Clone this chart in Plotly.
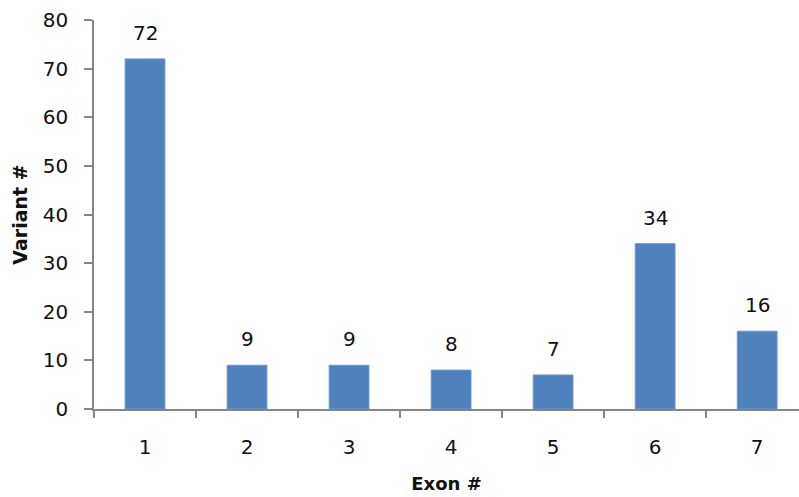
import plotly.graph_objects as go

exons = [1, 2, 3, 4, 5, 6, 7]
variants = [72, 9, 9, 8, 7, 34, 16]
tick_labels = ["1", "2", "3", "4", "5", "6", "7"]
y_ticks = [0, 10, 20, 30, 40, 50, 60, 70, 80]

FONT = "DejaVu Sans"
BAR = "#4F81BD"
AXIS = "#868686"

fig = go.Figure()
fig.add_trace(go.Bar(
    x=exons, y=variants, width=0.39,
    marker=dict(color=BAR, line=dict(color="#6E95C9", width=1)),
    hoverinfo="skip",
))

for x, v in zip(exons, variants):
    fig.add_annotation(x=x, y=v, text=str(v), showarrow=False,
                       yanchor="middle", yshift=26,
                       font=dict(family=FONT, size=20, color="#111111"))

fig.update_layout(
    width=799, height=497,
    margin=dict(l=94, r=0, t=20, b=88),
    paper_bgcolor="white", plot_bgcolor="white",
    showlegend=False,
    font=dict(family=FONT, size=20, color="#111111"),
    xaxis=dict(
        range=[0.5, 7.41],
        tickmode="array", tickvals=exons, ticktext=tick_labels,
        ticks="", ticklabelstandoff=19,
        tickfont=dict(family=FONT, size=20),
        minor=dict(tick0=0.5, dtick=1, ticks="outside", ticklen=7,
                   tickcolor=AXIS, tickwidth=1.5),
        showline=True, linecolor=AXIS, linewidth=1.5,
        showgrid=False, zeroline=False,
        title=dict(text="<b>Exon #</b>", standoff=20,
                   font=dict(family=FONT, size=18)),
    ),
    yaxis=dict(
        range=[0, 80],
        tickmode="array", tickvals=y_ticks,
        ticks="outside", ticklen=8, tickcolor=AXIS, tickwidth=1.5,
        ticklabelstandoff=12,
        tickfont=dict(family=FONT, size=20),
        showline=True, linecolor=AXIS, linewidth=1.5,
        showgrid=False, zeroline=False,
        title=dict(text="<b>Variant #</b>", standoff=10,
                   font=dict(family=FONT, size=19)),
    ),
)

fig.write_html("out.html")
